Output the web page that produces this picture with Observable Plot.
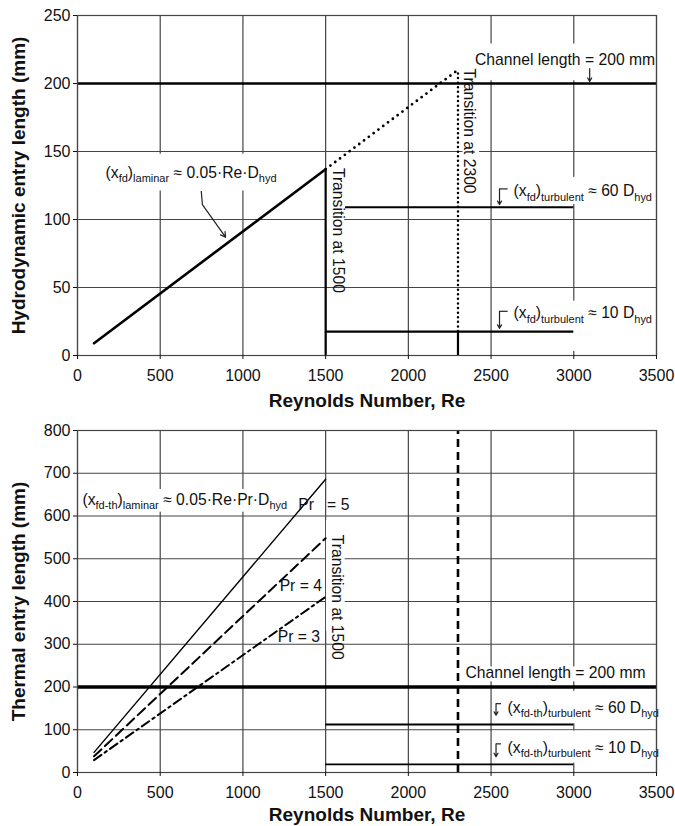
<!DOCTYPE html>
<html><head><meta charset="utf-8">
<script src="https://cdn.jsdelivr.net/npm/d3@7"></script>
<script src="https://cdn.jsdelivr.net/npm/@observablehq/plot@0.6"></script>
<style>
body{margin:0;background:#fff}
#chart svg{display:block}
</style>
</head><body><div id="chart"></div>
<script>
// ---------------- data ----------------
const xTicks = [0, 500, 1000, 1500, 2000, 2500, 3000, 3500];
const yTicksHydro = [0, 50, 100, 150, 200, 250];
const yTicksThermal = [0, 100, 200, 300, 400, 500, 600, 700, 800];

// hydrodynamic entry length (mm)
const reLaminar = [100, 1500];
const hydroLaminar = [9, 137];
const reExtension = [1500, 2300];
const hydroExtension = [137, 210];
const reTurb60Hydro = [1620, 3000];
const hydroTurb60 = 109;
const reTurb10Hydro = [1500, 3000];
const hydroTurb10 = 17.6;
const channelLength = 200;
const reTransitions = [1500, 2300];

// thermal entry length (mm)
const prandtl = [5, 4, 3];
const reThermalLaminar = [100, 1500];
const thermalPr5 = [47, 686];
const thermalPr4 = [38, 548];
const thermalPr3 = [29, 411];
const reTurbThermal = [1500, 3000];
const thermalTurb60 = 112;
const thermalTurb10 = 19;

// ---------------- helpers ----------------
const FONT = "'Liberation Sans', Arial, Helvetica, sans-serif";
const GRID = "#454545";
const FS = 15.7;      // annotation font size
const TITLE = 19;     // axis-title font size
const pts = (xs, ys) => xs.map((x, i) => ({x, y: ys[i]}));

function richify(svg) {
  for (const t of svg.querySelectorAll("text")) {
    const s = t.textContent;
    if (!s.includes("_{")) continue;
    const fs = parseFloat(getComputedStyle(t).fontSize) || 14;
    t.textContent = "";
    const re = /_\{([^}]*)\}/g;
    let last = 0, m, off = 0;
    const add = (str, sub) => {
      if (!str) return;
      const ts = document.createElementNS("http://www.w3.org/2000/svg", "tspan");
      ts.textContent = str;
      const target = sub ? fs * 0.3 : 0;
      if (target !== off) { ts.setAttribute("dy", (target - off).toFixed(2)); off = target; }
      if (sub) ts.setAttribute("font-size", (fs * 0.7).toFixed(2));
      t.appendChild(ts);
    };
    while ((m = re.exec(s))) {
      add(s.slice(last, m.index), false);
      add(m[1], true);
      last = re.lastIndex;
    }
    add(s.slice(last), false);
  }
}

const axisOpts = {tickSize: 4, fontSize: 16};
const lead = {x1: "x1", y1: "y1", x2: "x2", y2: "y2", stroke: "#222", strokeWidth: 1.2};

// ---------------- top chart ----------------
const hydroBoxes = [
  {x1: 110, x2: 1250, y1: 121, y2: 148},
  {x1: 2405, x2: 3490, y1: 202, y2: 229},
  {x1: 1505, x2: 1615, y1: 93, y2: 135},
  {x1: 2330, x2: 2430, y1: 112, y2: 198},
  {x1: 2565, x2: 3490, y1: 111, y2: 131},
  {x1: 2565, x2: 3490, y1: 3, y2: 40}
];

const topChart = Plot.plot({
  width: 675, height: 412,
  marginLeft: 77, marginRight: 19, marginTop: 15, marginBottom: 57,
  style: {fontFamily: FONT, fontSize: "16px", color: "#111", background: "#fff"},
  x: {domain: [0, 3500]},
  y: {domain: [0, 250]},
  marks: [
    Plot.ruleX(xTicks, {stroke: GRID, strokeWidth: 1.2}),
    Plot.ruleY(yTicksHydro, {stroke: GRID, strokeWidth: 1.2}),
    Plot.rect(hydroBoxes, {x1: "x1", x2: "x2", y1: "y1", y2: "y2", fill: "white"}),
    Plot.ruleY([channelLength], {stroke: "#000", strokeWidth: 2.6}),
    Plot.line(pts(reLaminar, hydroLaminar), {x: "x", y: "y", stroke: "#000", strokeWidth: 2.6}),
    Plot.line(pts(reExtension, hydroExtension), {x: "x", y: "y", stroke: "#000", strokeWidth: 2.8, strokeDasharray: "0,6", strokeLinecap: "round"}),
    Plot.ruleX([reTransitions[0]], {y1: 0, y2: hydroLaminar[1], stroke: "#000", strokeWidth: 2.2}),
    Plot.ruleX([reTransitions[1]], {y1: 0, y2: hydroTurb10, stroke: "#000", strokeWidth: 2.2}),
    Plot.ruleX([reTransitions[1]], {y1: hydroTurb10, y2: hydroExtension[1], stroke: "#000", strokeWidth: 2.5, strokeDasharray: "0,4.6", strokeLinecap: "round"}),
    Plot.ruleY([hydroTurb60], {x1: reTurb60Hydro[0], x2: reTurb60Hydro[1], stroke: "#000", strokeWidth: 2.2}),
    Plot.ruleY([hydroTurb10], {x1: reTurb10Hydro[0], x2: reTurb10Hydro[1], stroke: "#000", strokeWidth: 2.2}),
    // annotations
    Plot.text(["(x_{fd})_{laminar} ≈ 0.05·Re·D_{hyd}"], {x: 170, y: 134.5, textAnchor: "start", fontSize: FS, fill: "#111"}),
    Plot.link([{x1: 748, y1: 121, x2: 755, y2: 111}], lead),
    Plot.arrow([{x1: 755, y1: 111, x2: 895, y2: 87}], {...lead, headLength: 7}),
    Plot.text(["Channel length = 200 mm"], {x: 2403, y: 217, textAnchor: "start", fontSize: FS, fill: "#111"}),
    Plot.arrow([{x1: 3096, y1: 211, x2: 3096, y2: 201.5}], {...lead, headLength: 5}),
    Plot.text(["Transition at 1500"], {x: 1572, y: 92, rotate: 90, fontSize: FS, fill: "#111"}),
    Plot.text(["Transition at 2300"], {x: 2366, y: 165, rotate: 90, fontSize: FS, fill: "#111"}),
    Plot.text(["(x_{fd})_{turbulent} ≈ 60 D_{hyd}"], {x: 2636, y: 121, textAnchor: "start", fontSize: FS, fill: "#111"}),
    Plot.link([{x1: 2600, y1: 122.5, x2: 2551, y2: 122.5}], lead),
    Plot.arrow([{x1: 2551, y1: 122.5, x2: 2551, y2: 111}], {...lead, headLength: 5}),
    Plot.text(["(x_{fd})_{turbulent} ≈ 10 D_{hyd}"], {x: 2636, y: 31, textAnchor: "start", fontSize: FS, fill: "#111"}),
    Plot.link([{x1: 2600, y1: 32.5, x2: 2551, y2: 32.5}], lead),
    Plot.arrow([{x1: 2551, y1: 32.5, x2: 2551, y2: 20}], {...lead, headLength: 5}),
    Plot.frame({stroke: GRID, strokeWidth: 1.2}),
    Plot.axisX({ticks: xTicks, tickFormat: d3.format("d"), tickPadding: 10, label: null, ...axisOpts}),
    Plot.axisY({ticks: yTicksHydro, tickFormat: d3.format("d"), tickPadding: 3, label: null, ...axisOpts}),
    Plot.text(["Reynolds Number, Re"], {frameAnchor: "bottom", lineAnchor: "middle", textAnchor: "middle", dy: 45, fontWeight: "bold", fontSize: TITLE, fill: "#111"}),
    Plot.text(["Hydrodynamic entry length (mm)"], {frameAnchor: "left", textAnchor: "middle", lineAnchor: "middle", dx: -59, rotate: -90, fontWeight: "bold", fontSize: TITLE, fill: "#111"})
  ]
});

// ---------------- bottom chart ----------------
const thermalBoxes = [
  {x1: 25, x2: 1290, y1: 609, y2: 662},
  {x1: 1505, x2: 1618, y1: 330, y2: 590},
  {x1: 2330, x2: 3490, y1: 212, y2: 247},
  {x1: 2510, x2: 3490, y1: 114, y2: 190},
  {x1: 2510, x2: 3490, y1: 22, y2: 97}
];

const bottomChart = Plot.plot({
  width: 675, height: 414,
  marginLeft: 77, marginRight: 19, marginTop: 18, marginBottom: 54,
  style: {fontFamily: FONT, fontSize: "16px", color: "#111", background: "#fff"},
  x: {domain: [0, 3500]},
  y: {domain: [0, 800]},
  marks: [
    Plot.ruleX(xTicks, {stroke: GRID, strokeWidth: 1.2}),
    Plot.ruleY(yTicksThermal, {stroke: GRID, strokeWidth: 1.2}),
    Plot.rect(thermalBoxes, {x1: "x1", x2: "x2", y1: "y1", y2: "y2", fill: "white"}),
    Plot.ruleY([channelLength], {stroke: "#000", strokeWidth: 3.6}),
    Plot.line(pts(reThermalLaminar, thermalPr5), {x: "x", y: "y", stroke: "#000", strokeWidth: 1.4}),
    Plot.line(pts(reThermalLaminar, thermalPr4), {x: "x", y: "y", stroke: "#000", strokeWidth: 2, strokeDasharray: "10,5"}),
    Plot.line(pts(reThermalLaminar, thermalPr3), {x: "x", y: "y", stroke: "#000", strokeWidth: 2, strokeDasharray: "9,4,2.5,4"}),
    Plot.ruleX([reTransitions[1]], {y1: 0, y2: 800, stroke: "#000", strokeWidth: 2.6, strokeDasharray: "8,5"}),
    Plot.ruleY([thermalTurb60], {x1: reTurbThermal[0], x2: reTurbThermal[1], stroke: "#000", strokeWidth: 2}),
    Plot.ruleY([thermalTurb10], {x1: reTurbThermal[0], x2: reTurbThermal[1], stroke: "#000", strokeWidth: 1.6}),
    // annotations
    Plot.text(["(x_{fd-th})_{laminar} ≈ 0.05·Re·Pr·D_{hyd}"], {x: 30, y: 638, textAnchor: "start", fontSize: FS, fill: "#111"}),
    Plot.text(prandtl.map(p => p === 5 ? `Pr   = ${p}` : `Pr = ${p}`), {x: [1335, 1222, 1210], y: [625, 437, 316], textAnchor: "start", fontSize: FS, fill: "#111"}),
    Plot.text(["Transition at 1500"], {x: 1568, y: 410, rotate: 90, fontSize: FS, fill: "#111"}),
    Plot.text(["Channel length = 200 mm"], {x: 2345, y: 232, textAnchor: "start", fontSize: FS, fill: "#111"}),
    Plot.text(["(x_{fd-th})_{turbulent} ≈ 60 D_{hyd}"], {x: 2600, y: 152, textAnchor: "start", fontSize: FS, fill: "#111"}),
    Plot.link([{x1: 2560, y1: 161, x2: 2530, y2: 161}], lead),
    Plot.arrow([{x1: 2530, y1: 161, x2: 2530, y2: 134}], {...lead, headLength: 5}),
    Plot.text(["(x_{fd-th})_{turbulent} ≈ 10 D_{hyd}"], {x: 2600, y: 58, textAnchor: "start", fontSize: FS, fill: "#111"}),
    Plot.link([{x1: 2560, y1: 67, x2: 2530, y2: 67}], lead),
    Plot.arrow([{x1: 2530, y1: 67, x2: 2530, y2: 37}], {...lead, headLength: 5}),
    Plot.frame({stroke: GRID, strokeWidth: 1.2}),
    Plot.axisX({ticks: xTicks, tickFormat: d3.format("d"), tickPadding: 10, label: null, ...axisOpts}),
    Plot.axisY({ticks: yTicksThermal, tickFormat: d3.format("d"), tickPadding: 3, label: null, ...axisOpts}),
    Plot.text(["Reynolds Number, Re"], {frameAnchor: "bottom", lineAnchor: "middle", textAnchor: "middle", dy: 42, fontWeight: "bold", fontSize: TITLE, fill: "#111"}),
    Plot.text(["Thermal entry length (mm)"], {frameAnchor: "left", textAnchor: "middle", lineAnchor: "middle", dx: -59, rotate: -90, fontWeight: "bold", fontSize: TITLE, fill: "#111"})
  ]
});

const chart = document.getElementById("chart");
chart.appendChild(topChart);
chart.appendChild(bottomChart);
richify(topChart);
richify(bottomChart);
</script>
</body></html>
